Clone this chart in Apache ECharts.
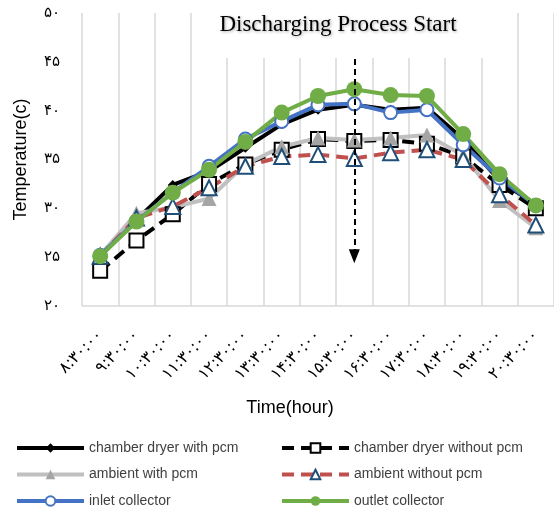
<!DOCTYPE html>
<html>
<head>
<meta charset="utf-8">
<script src="https://cdn.jsdelivr.net/npm/echarts@6/dist/echarts.min.js"></script>
<style>
html,body{margin:0;padding:0;background:#fff;}
#c{width:554px;height:508px;}
</style>
</head>
<body>
<div id="c"></div>
<script>
var categories = ['۸:۳۰:۰۰','۹:۳۰:۰۰','۱۰:۳۰:۰۰','۱۱:۳۰:۰۰','۱۲:۳۰:۰۰','۱۳:۳۰:۰۰','۱۴:۳۰:۰۰','۱۵:۳۰:۰۰','۱۶:۳۰:۰۰','۱۷:۳۰:۰۰','۱۸:۳۰:۰۰','۱۹:۳۰:۰۰','۲۰:۳۰:۰۰'];
var yTickLabels = ['۲۰','۲۵','۳۰','۳۵','۴۰','۴۵','۵۰'];
var chamberWithPcm    = [25.1, 28.8, 32.4, 33.8, 36.2, 38.6, 40.1, 40.6, 40.1, 40.3, 37.1, 32.8, 30.4];
var chamberWithoutPcm = [23.6, 26.7, 29.4, 32.5, 34.5, 36.0, 37.1, 36.9, 37.0, 36.6, 35.3, 32.4, 30.0];
var ambientWithPcm    = [25.2, 29.5, 30.1, 31.0, 34.5, 36.3, 37.2, 37.0, 37.2, 37.5, 35.4, 30.8, 28.0];
var ambientWithoutPcm = [25.1, 29.0, 30.2, 32.1, 34.3, 35.3, 35.5, 35.1, 35.7, 36.0, 35.0, 31.4, 28.3];
var inletCollector    = [25.2, 28.7, 31.6, 34.3, 37.1, 38.9, 40.6, 40.7, 39.8, 40.1, 36.5, 33.1, 30.3];
var outletCollector   = [25.1, 28.65, 31.6, 33.95, 36.8, 39.8, 41.5, 42.2, 41.6, 41.5, 37.6, 33.5, 30.3];
var arrowCategory = '۱۵:۳۰:۰۰';
var arrowFrom = 45.3, arrowTo = 25.1;
var titleText = 'Discharging Process Start';

var chart = echarts.init(document.getElementById('c'), null, {renderer:'canvas'});
var legendText = {color:'#404040', fontSize:14, fontFamily:'Liberation Sans', lineHeight:16};
var legendCommon = {orient:'vertical', top:440, height:90, padding:0, itemWidth:67, itemHeight:12, itemGap:10.5,
  textStyle:legendText, lineStyle:{width:4}};
var option = {
  animation:false,
  backgroundColor:'#fff',
  grid:{left:82, right:0, top:13, bottom:202, containLabel:false},
  xAxis:{
    type:'category', data:categories, boundaryGap:true,
    axisLine:{show:true, lineStyle:{color:'#D9D9D9', width:1.5}},
    axisTick:{show:false},
    splitLine:{show:true, lineStyle:{color:'#D9D9D9', width:1.5}},
    axisLabel:{rotate:45, margin:27, fontSize:16, color:'#000', fontFamily:'DejaVu Sans', interval:0}
  },
  yAxis:{
    type:'value', min:20, max:50, interval:5,
    name:'Temperature(c)', nameLocation:'middle', nameGap:52,
    nameTextStyle:{fontSize:18, color:'#000', fontFamily:'Liberation Sans'},
    axisLine:{show:false}, axisTick:{show:false}, splitLine:{show:false},
    axisLabel:{margin:22, fontSize:15, color:'#000', fontFamily:'DejaVu Sans',
      formatter:function(v){ return yTickLabels[Math.round((v-20)/5)]; }}
  },
  legend:[
    Object.assign({left:15, data:['chamber dryer with pcm','ambient with pcm','inlet collector']}, legendCommon),
    Object.assign({left:280, data:['chamber dryer without pcm','ambient without pcm','outlet collector']}, legendCommon)
  ],
  graphic:[
    {type:'rect', z:50, shape:{x:205, y:0, width:283, height:58}, style:{fill:'#fff'}},
    {type:'text', z:51,
     style:{text:titleText, x:338, y:25, fill:'#000', font:'23px "Liberation Serif"', align:'center', verticalAlign:'middle',
            textShadowColor:'rgba(0,0,0,0.35)', textShadowBlur:3, textShadowOffsetX:1, textShadowOffsetY:1}},
    {type:'text', z:51, style:{text:'Time(hour)', x:290, y:408, fill:'#000', font:'18px "Liberation Sans"', align:'center', verticalAlign:'middle'}}
  ],
  series:[
    {name:'chamber dryer with pcm', type:'line', data:chamberWithPcm, symbol:'diamond', symbolSize:10,
     lineStyle:{color:'#000', width:4}, itemStyle:{color:'#000'}},
    {name:'chamber dryer without pcm', type:'line', data:chamberWithoutPcm, symbol:'rect', symbolSize:14,
     lineStyle:{color:'#000', width:4, type:[12,7]}, itemStyle:{color:'#fff', borderColor:'#000', borderWidth:2}},
    {name:'ambient with pcm', type:'line', data:ambientWithPcm, symbol:'triangle', symbolSize:15,
     lineStyle:{color:'#C0C0C0', width:4}, itemStyle:{color:'#A5A5A5'}},
    {name:'ambient without pcm', type:'line', data:ambientWithoutPcm, symbol:'triangle', symbolSize:15,
     lineStyle:{color:'#C0504D', width:4, type:[12,7]}, itemStyle:{color:'#fff', borderColor:'#1F4E79', borderWidth:2}},
    {name:'inlet collector', type:'line', data:inletCollector, symbol:'circle', symbolSize:13,
     lineStyle:{color:'#4472C4', width:4}, itemStyle:{color:'#fff', borderColor:'#4472C4', borderWidth:2}},
    {name:'outlet collector', type:'line', data:outletCollector, symbol:'circle', symbolSize:16,
     lineStyle:{color:'#70AD47', width:4}, itemStyle:{color:'#70AD47'},
     markLine:{silent:true, symbol:['none','triangle'], symbolSize:[11,14], label:{show:false},
       lineStyle:{color:'#000', width:2, type:[6,4]},
       data:[[{coord:[arrowCategory, arrowFrom]},{coord:[arrowCategory, arrowTo]}]]}}
  ]
};
chart.setOption(option);
</script>
</body>
</html>
